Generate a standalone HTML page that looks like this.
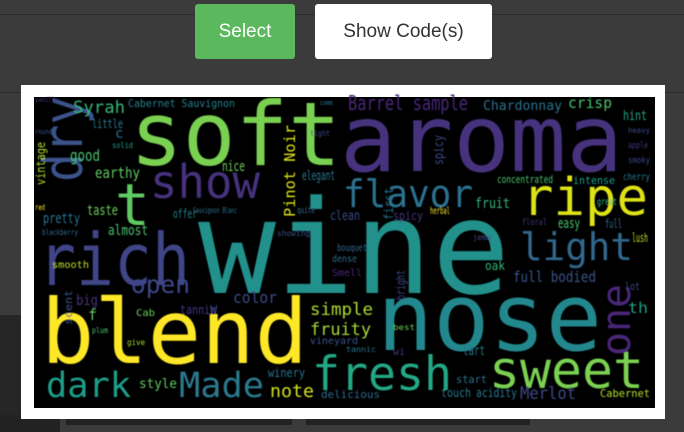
<!DOCTYPE html>
<html><head><meta charset="utf-8"><style>
html,body{margin:0;padding:0;width:684px;height:432px;overflow:hidden;background:#3b3b3b;font-family:"Liberation Sans",sans-serif}
.btn{position:absolute;top:4px;height:55px;border-radius:3px;font-size:19px;display:flex;align-items:center;justify-content:center}
</style></head><body>
<div style="position:absolute;left:0;top:14px;width:684px;height:1px;background:#2c2c2c"></div>
<div style="position:absolute;left:0;top:92px;width:684px;height:1px;background:#2c2c2c"></div>
<div style="position:absolute;left:0;top:315px;width:21px;height:117px;background:#262626"></div>
<div style="position:absolute;left:0;top:415px;width:684px;height:17px;background:#3b3b3b">
 <div style="position:absolute;left:0;top:0;width:60px;height:17px;background:#222"></div>
 <div style="position:absolute;left:66px;top:0;width:226px;height:10px;background:#222"></div>
 <div style="position:absolute;left:306px;top:0;width:224px;height:10px;background:#222"></div>
</div>
<div class="btn" style="left:195px;width:100px;background:#5cb85c;color:#fff">Select</div>
<div class="btn" style="left:315px;width:177px;background:#fff;color:#333">Show Code(s)</div>
<div style="position:absolute;left:21px;top:85px;width:644px;height:334px;background:#fff"></div>
<svg style="position:absolute;left:0;top:0" width="684" height="432">
<defs><filter id="bl"><feGaussianBlur stdDeviation="0.6"/></filter></defs>
<rect x="34" y="97" width="621" height="311" fill="#000"/>
<g id="words" filter="url(#bl)" font-family="'DejaVu Sans Mono','Liberation Mono',monospace"></g>
</svg>
<script>
const words=["soft","aroma","wine","nose","blend","rich","dry","show","t","ripe","flavor","light","fresh","sweet","dark","Made","one","open","note","simple","fruity","vineyard","winery","delicious","touch","acidity","Merlot","Cabernet","start","tart","full bodied","oak","lot","th","color","tannin","Cab","big","smooth","dense","Smell","bright","Syrah","Cabernet Sauvignon","vanilla","little","good","earthy","nice","Pinot Noir","elegant","taste","pretty","offer","almost","blackberry","Sauvignon Blanc","showing","spicy","bouquet","Barrel sample","Chardonnay","crisp","hint","heavy","apple","smoky","cherry","concentrated","intense","fruit","spicy","first","herbal","easy","full","floral","lush","jammy","clean","style","scent","vintage","f","plum","give","W","c","solid","round","red","tight","come","quite","best","wi","tannic","great"];
const sizes=[88,93,130,94,89,72,54,46,58,52,38,38,47,52,35,35,40,25,18,17,17,10,12,11,12,12,17,11,11,13,15,12,11,15,16,12,10,14,10,10,10,12,17,11,7,12,16,15,14,15,13,14,14,12,14,8,8,8,13,10,20,13,15,13,8,9,9,10,11,11,14,12,12,10,14,12,9,12,8,13,13,11,12,15,8,8,12,14,8,7,8,8,7,9,8,10,8,10];
const xs=[130,340,198,377,41,38,82,150,115,522,343,520,312,489,46,179,630,131,270,310,310,310,268,321,441,476,520,600,456,463,513,485,625,628,233,180,136,76,52,332,332,405,73,128,35,92,70,95,222,295,302,87,43,173,108,42,193,277,443,337,348,483,568,623,628,628,628,623,497,573,475,393,393,430,558,605,522,632,473,330,139,72,45,88,92,127,210,115,112,35,35,310,320,297,393,393,346,597];
const ys=[165,171,293,350,363,285,182,198,225,215,207,260,390,388,397,397,356,293,397,315,335,344,377,398,397,397,399,397,383,355,282,270,290,313,303,314,316,305,268,262,276,300,113,107,102,128,161,178,171,217,180,215,223,218,235,235,213,236,165,251,110,110,108,120,133,148,163,180,183,184,208,220,220,214,228,228,225,242,240,220,388,325,185,320,333,345,314,138,148,134,210,136,105,213,330,355,352,205];
const widths=[211,283,312,225,267,152,86,110,0,126,130,113,140,155,85,85,72,59,44,63,61,48,37,59,30,41,56,50,31,22,83,20,15,20,44,36,19,22,37,25,30,30,52,107,23,31,30,45,23,92,33,31,37,24,40,36,44,33,30,30,120,79,44,24,22,20,22,27,56,42,35,30,32,20,22,17,25,16,19,30,38,35,43,0,16,18,0,0,21,17,10,20,13,18,22,12,30,20];
const rots=[0,0,0,0,0,0,-90,0,0,0,0,0,0,0,0,0,-90,0,0,0,0,0,0,0,0,0,0,0,0,0,0,0,0,0,0,0,0,0,0,0,0,-90,0,0,0,0,0,0,0,-90,0,0,0,0,0,0,0,0,-90,0,0,0,0,0,0,0,0,0,0,0,0,0,-90,0,0,0,0,0,0,0,0,-90,-90,0,0,0,0,0,0,0,0,0,0,0,0,0,0,0];
const colors=["#7ad151","#46337e","#21918c","#23888e","#fde725","#414487","#3b528b","#46337e","#5ec962","#dde318","#2c728e","#31688e","#22a884","#7ad151","#1f9e89","#2a788e","#482878","#3e4989","#d0e11c","#addc30","#a0da39","#3b528b","#2c728e","#31688e","#2a788e","#2a788e","#3e4989","#b5de2b","#2c728e","#2a788e","#3b528b","#35b779","#3e4989","#1f9e89","#3e4989","#443983","#6ccd5a","#46337e","#bddf26","#31688e","#482878","#3e4989","#35b779","#277f8e","#46337e","#2a788e","#4ac16d","#5ec962","#6ccd5a","#dde318","#2a788e","#6ccd5a","#2c728e","#277f8e","#4ac16d","#31688e","#2c728e","#3b528b","#3e4989","#31688e","#482878","#2c728e","#4ac16d","#22a884","#3e4989","#46337e","#3e4989","#2a788e","#4ac16d","#1f9e89","#35b779","#46337e","#2c728e","#fde725","#4ac16d","#31688e","#443983","#bddf26","#3e4989","#3e4989","#5ec962","#3b528b","#b5de2b","#5ec962","#4ac16d","#a0da39","#3e4989","#2c728e","#1f9e89","#3b528b","#fde725","#3e4989","#2a788e","#31688e","#6ccd5a","#46337e","#2c728e","#35b779"];
const g=document.getElementById('words');
const NS='http://www.w3.org/2000/svg';
for(let i=0;i<words.length;i++){
  const t=document.createElementNS(NS,'text');
  
  
  t.setAttribute('font-size',sizes[i]);
  t.setAttribute('fill',colors[i]);
  if(rots[i]){t.setAttribute('x',0);t.setAttribute('y',0);t.setAttribute('transform','translate('+xs[i]+','+ys[i]+') rotate('+rots[i]+')');}
  else{t.setAttribute('x',xs[i]);t.setAttribute('y',ys[i]);}
  if(widths[i]>0&&words[i].length>1){t.setAttribute('textLength',widths[i]);t.setAttribute('lengthAdjust','spacingAndGlyphs');}
  t.textContent=words[i];
  g.appendChild(t);
}
</script>
</body></html>
